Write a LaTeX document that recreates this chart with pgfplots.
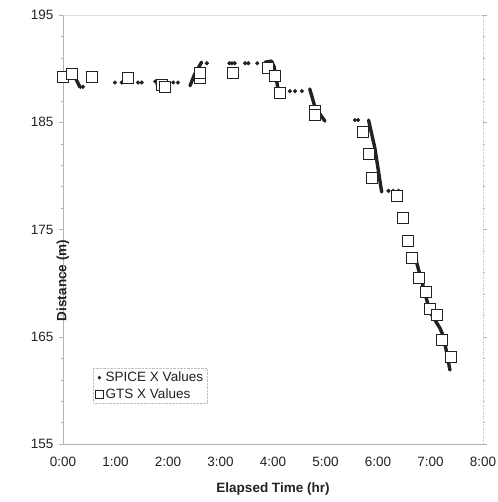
\documentclass[border=0pt]{standalone}
\usepackage{fontspec}
\setmainfont{Liberation Sans}
\usepackage{pgfplots}
\pgfplotsset{compat=1.18}
\definecolor{ink}{HTML}{222222}
\begin{document}
\begin{tikzpicture}
\begin{axis}[
    scale only axis,
    width=420pt, height=429pt,
    xmin=0, xmax=8, ymin=155, ymax=195,
    xtick={0,1,2,3,4,5,6,7,8},
    xticklabels={0:00,1:00,2:00,3:00,4:00,5:00,6:00,7:00,8:00},
    ytick={155,165,175,185,195},
    minor ytick={157,159,161,163,167,169,171,173,177,179,181,183,187,189,191,193},
    tick align=outside,
    major tick length=4pt, minor tick length=2pt,
    xtick style={draw=none},
    ytick style={gray!60},
    minor tick style={gray!30},
    axis line style={draw=none},
    /pgf/number format/assume math mode=true,
    tick label style={font=\fontsize{13.5}{15}\selectfont, text=ink},
    xticklabel style={yshift=-6pt},
    yticklabel style={xshift=-2pt},
    xlabel={\textbf{Elapsed Time (hr)}},
    ylabel={\textbf{Distance (m)}},
    label style={font=\fontsize{13.5}{15}\selectfont, text=ink},
    xlabel style={at={(axis description cs:0.5,0)}, yshift=-45pt, anchor=center},
    ylabel style={at={(axis description cs:0,0.5)}, xshift=-51pt, anchor=center},
    legend style={at={(axis cs:0.57,162.1)}, anchor=north west,
        draw=gray!50, densely dotted, inner sep=2pt, row sep=1pt,
        font=\fontsize{13.5}{15}\selectfont, text=ink, cells={anchor=west}},
    legend cell align=left,
    clip=false,
]
\draw[gray!60, line width=0.6pt] (rel axis cs:0,1) -- (rel axis cs:0,0) -- (rel axis cs:1,0);
\draw[gray!40, densely dotted, line width=0.6pt] (rel axis cs:0,1) -- (rel axis cs:1,1) -- (rel axis cs:1,0);
\coordinate (O) at (rel axis cs:0,0);

% SPICE isolated points
\addplot[only marks, mark=*, mark size=1.9pt, ink,
    legend image code/.code={\draw[ink, fill=ink] (0.25cm,0cm) circle (1.6pt);}]
coordinates {
(0.33,188.3) (0.38,188.3)
(0.99,188.7) (1.12,188.7) (1.43,188.7) (1.50,188.7)
(1.76,188.8) (1.80,188.5)
(2.10,188.7) (2.19,188.7)
(2.74,190.5)
(3.17,190.5) (3.22,190.5) (3.27,190.5) (3.47,190.5) (3.53,190.5) (3.70,190.5)
(4.32,187.9) (4.42,187.9) (4.55,187.9)
(5.56,185.2) (5.62,185.2)
(6.20,178.6) (6.29,178.6) (6.39,178.6)
};
\addlegendentry{SPICE X Values}

% SPICE dense runs (read as thick traces)
\addplot[ink, line width=3.4pt, line cap=round, line join=round, forget plot] coordinates {
(0.20,189.6) (0.25,189.0) (0.32,188.3)
};
\addplot[ink, line width=3.4pt, line cap=round, line join=round, forget plot] coordinates {
(2.42,188.4) (2.50,189.4) (2.64,190.6)
};
\addplot[ink, line width=3.4pt, line cap=round, line join=round, forget plot] coordinates {
(3.85,190.6) (3.97,190.7) (4.02,190.2) (4.10,188.0)
};
\addplot[ink, line width=3.4pt, line cap=round, line join=round, forget plot] coordinates {
(4.70,188.1) (4.80,186.4) (4.99,185.1)
};
\addplot[ink, line width=3.4pt, line cap=round, line join=round, forget plot] coordinates {
(5.82,185.2) (5.94,182.6) (6.07,178.5)
};
\addplot[ink, line width=3.4pt, line cap=round, line join=round, forget plot] coordinates {
(6.72,172.2) (6.86,169.7) (6.99,167.3) (7.18,165.8) (7.25,165.0) (7.37,161.9)
};

% GTS
\addplot[only marks, mark=square*, mark size=5.5pt,
    mark options={draw=ink, fill=white, line width=0.6pt},
    legend image code/.code={\draw[ink, fill=white, line width=0.6pt] (0.25cm-4pt,-4pt) rectangle (0.25cm+4pt,4pt);}]
coordinates {
(0.00,189.2) (0.17,189.5) (0.55,189.2) (1.24,189.1)
(1.89,188.5) (1.94,188.3)
(2.61,189.1) (2.61,189.6)
(3.24,189.6) (3.90,190.1) (4.04,189.3) (4.13,187.7)
(4.80,186.1) (4.80,185.7)
(5.71,184.1) (5.83,182.1) (5.89,179.8)
(6.36,178.1) (6.48,176.1) (6.57,173.9) (6.65,172.4)
(6.78,170.5) (6.91,169.2) (6.99,167.6) (7.12,167.0)
(7.22,164.7) (7.39,163.1)
};
\addlegendentry{GTS X Values}
\end{axis}
\pgfresetboundingbox
\path (O) ++(-63pt,-58pt) rectangle ++(497pt,502pt);
\end{tikzpicture}
\end{document}
